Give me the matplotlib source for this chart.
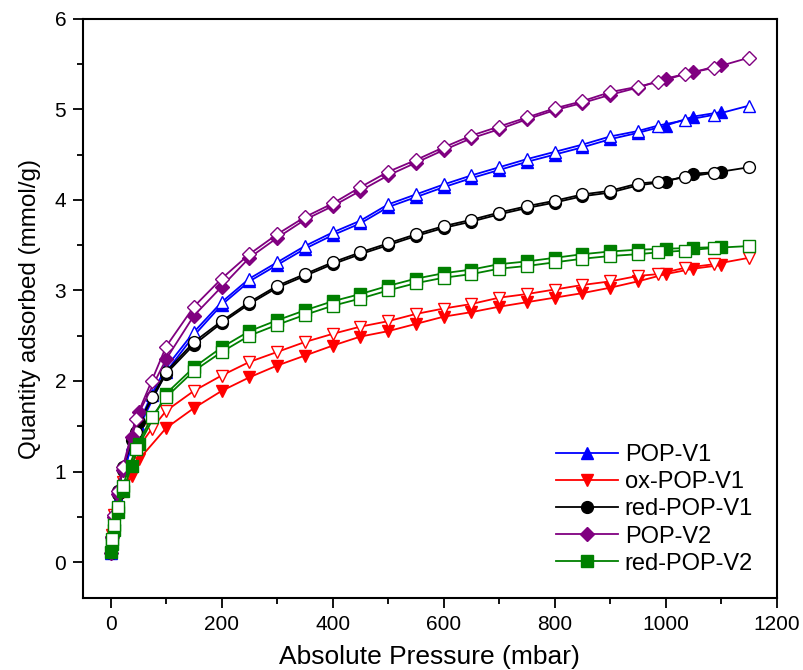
import matplotlib
matplotlib.use("Agg")
import matplotlib.pyplot as plt
from matplotlib.ticker import MultipleLocator

plt.rcParams["font.family"] = ["Liberation Sans", "DejaVu Sans"]

# adsorption (filled) and desorption (open) pressures, mbar
P_ADS = [1, 3, 7, 13, 22, 38, 52, 100, 150, 200, 250, 300, 350, 400, 450, 500,
         550, 600, 650, 700, 750, 800, 850, 900, 950, 1000, 1050, 1100]
P_DES = [1150, 1088, 1035, 986, 950, 900, 850, 800, 750, 700, 650, 600, 550,
         500, 450, 400, 350, 300, 250, 200, 150, 100, 74, 45, 22, 13, 7, 3]

# quantity adsorbed, mmol/g
V1_ADS = [0.10, 0.26, 0.48, 0.70, 0.95, 1.30, 1.50, 2.10, 2.50, 2.84, 3.10, 3.28,
          3.46, 3.61, 3.74, 3.92, 4.03, 4.14, 4.24, 4.33, 4.42, 4.50, 4.58, 4.67,
          4.74, 4.82, 4.92, 4.97]
V1_DES = [5.04, 4.94, 4.88, 4.82, 4.76, 4.70, 4.61, 4.53, 4.45, 4.36, 4.27, 4.17,
          4.06, 3.95, 3.77, 3.64, 3.49, 3.31, 3.13, 2.87, 2.54, 2.15, 1.85, 1.45,
          0.95, 0.70, 0.48, 0.25]

OX_ADS = [0.10, 0.22, 0.40, 0.60, 0.77, 0.95, 1.14, 1.48, 1.70, 1.89, 2.04, 2.17,
          2.28, 2.39, 2.49, 2.55, 2.63, 2.71, 2.76, 2.82, 2.87, 2.92, 2.97, 3.03,
          3.10, 3.18, 3.24, 3.28]
OX_DES = [3.36, 3.29, 3.25, 3.18, 3.16, 3.10, 3.06, 3.01, 2.96, 2.92, 2.85, 2.80,
          2.74, 2.66, 2.60, 2.52, 2.43, 2.32, 2.21, 2.06, 1.89, 1.67, 1.47, 1.22,
          0.88, 0.72, 0.52, 0.30]

RED1_ADS = [0.10, 0.25, 0.48, 0.75, 1.02, 1.35, 1.55, 2.08, 2.40, 2.64, 2.85, 3.03,
            3.16, 3.29, 3.40, 3.50, 3.60, 3.69, 3.76, 3.84, 3.91, 3.97, 4.04, 4.08,
            4.16, 4.20, 4.29, 4.31]
RED1_DES = [4.36, 4.30, 4.25, 4.20, 4.18, 4.10, 4.06, 3.99, 3.93, 3.86, 3.78, 3.71,
            3.62, 3.52, 3.42, 3.31, 3.18, 3.05, 2.87, 2.66, 2.43, 2.10, 1.82, 1.44,
            1.05, 0.78, 0.50, 0.25]

V2_ADS = [0.10, 0.28, 0.50, 0.75, 1.02, 1.38, 1.66, 2.24, 2.72, 3.04, 3.36, 3.58,
          3.78, 3.93, 4.10, 4.27, 4.41, 4.55, 4.68, 4.78, 4.89, 4.99, 5.07, 5.16,
          5.24, 5.34, 5.41, 5.49]
V2_DES = [5.57, 5.46, 5.39, 5.30, 5.25, 5.19, 5.09, 5.01, 4.91, 4.81, 4.71, 4.58,
          4.44, 4.31, 4.14, 3.96, 3.81, 3.62, 3.40, 3.13, 2.82, 2.38, 2.00, 1.58,
          1.05, 0.78, 0.52, 0.28]

RED2_ADS = [0.11, 0.20, 0.35, 0.55, 0.78, 1.06, 1.30, 1.86, 2.15, 2.37, 2.55, 2.67,
            2.78, 2.88, 2.96, 3.05, 3.13, 3.19, 3.23, 3.29, 3.32, 3.36, 3.40, 3.43,
            3.45, 3.46, 3.47, 3.48]
RED2_DES = [3.49, 3.47, 3.44, 3.42, 3.40, 3.38, 3.35, 3.31, 3.27, 3.24, 3.18, 3.14,
            3.08, 3.00, 2.91, 2.83, 2.73, 2.62, 2.50, 2.32, 2.11, 1.82, 1.60, 1.25,
            0.84, 0.61, 0.41, 0.25]

SERIES = [
    ("POP-V1", "#0000ff", "^", 9, V1_ADS, V1_DES),
    ("ox-POP-V1", "#ff0000", "v", 9, OX_ADS, OX_DES),
    ("red-POP-V1", "#000000", "o", 8.5, RED1_ADS, RED1_DES),
    ("POP-V2", "#800080", "D", 7.5, V2_ADS, V2_DES),
    ("red-POP-V2", "#008000", "s", 8, RED2_ADS, RED2_DES),
]

fig = plt.figure(figsize=(8.04, 6.70), dpi=100)
ax = fig.add_axes([0.103, 0.107, 0.863, 0.865])

for label, color, marker, ms, ads, des in SERIES:
    ax.plot(P_ADS, ads, color=color, marker=marker, markersize=ms, lw=1.3,
            markerfacecolor=color, markeredgecolor=color, label=label)
    ax.plot(P_DES, des, color=color, marker=marker, markersize=ms, lw=1.3,
            markerfacecolor="white", markeredgecolor=color, markeredgewidth=1.0)

ax.set_xlim(-50, 1200)
ax.set_ylim(-0.4, 6)
ax.xaxis.set_major_locator(MultipleLocator(200))
ax.xaxis.set_minor_locator(MultipleLocator(100))
ax.yaxis.set_major_locator(MultipleLocator(1))
ax.yaxis.set_minor_locator(MultipleLocator(0.5))
ax.tick_params(which="both", direction="out", width=1.3, labelsize=15)
ax.tick_params(which="major", length=7, pad=5)
ax.tick_params(which="minor", length=4)
for s in ax.spines.values():
    s.set_linewidth(1.5)

ax.set_xlabel("Absolute Pressure (mbar)", fontsize=19, labelpad=8)
ax.set_ylabel("Quantity adsorbed (mmol/g)", fontsize=17.5, labelpad=10)

ax.legend(loc="lower right", frameon=False, fontsize=17, handlelength=2.6,
          handletextpad=0.3, labelspacing=0.22, borderaxespad=0.6)

plt.savefig("out.png", dpi=100)
